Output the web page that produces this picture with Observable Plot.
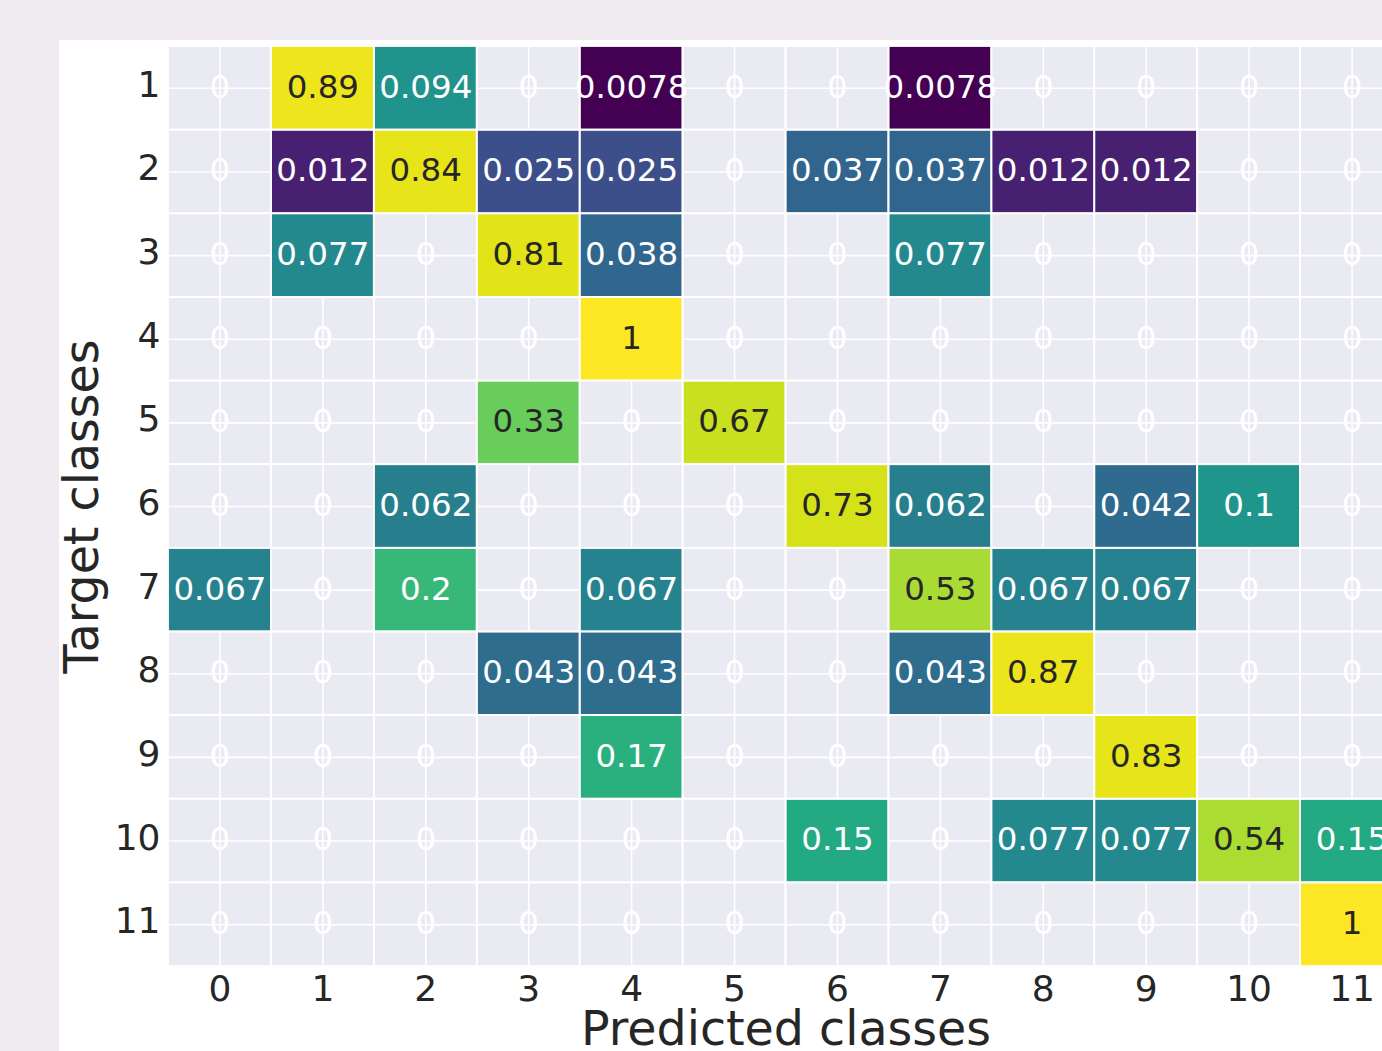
<!DOCTYPE html>
<html><head><meta charset="utf-8">
<script src="https://cdn.jsdelivr.net/npm/d3@7"></script>
<script src="https://cdn.jsdelivr.net/npm/@observablehq/plot@0.6"></script>
<style>
html,body{margin:0;padding:0;background:#f0eaf1;overflow:hidden;width:1382px;height:1051px}
#panel{position:absolute;left:59px;top:40px;background:#fff;width:1420px;height:1100px}
#panel svg{display:block}
</style></head><body><div id="panel"></div>
<script>
const predicted = [0,1,2,3,4,5,6,7,8,9,10,11];
const target = [1,2,3,4,5,6,7,8,9,10,11];
// rows = target classes 1..11, columns = predicted classes 0..11
const values = [
  [0,     0.89,  0.094, 0,     0.0078, 0,    0,     0.0078, 0,     0,     0,    0],
  [0,     0.012, 0.84,  0.025, 0.025,  0,    0.037, 0.037,  0.012, 0.012, 0,    0],
  [0,     0.077, 0,     0.81,  0.038,  0,    0,     0.077,  0,     0,     0,    0],
  [0,     0,     0,     0,     1,      0,    0,     0,      0,     0,     0,    0],
  [0,     0,     0,     0.33,  0,      0.67, 0,     0,      0,     0,     0,    0],
  [0,     0,     0.062, 0,     0,      0,    0.73,  0.062,  0,     0.042, 0.1,  0],
  [0.067, 0,     0.2,   0,     0.067,  0,    0,     0.53,   0.067, 0.067, 0,    0],
  [0,     0,     0,     0.043, 0.043,  0,    0,     0.043,  0.87,  0,     0,    0],
  [0,     0,     0,     0,     0.17,   0,    0,     0,      0,     0.83,  0,    0],
  [0,     0,     0,     0,     0,      0,    0.15,  0,      0.077, 0.077, 0.54, 0.15],
  [0,     0,     0,     0,     0,      0,    0,     0,      0,     0,     0,    1]
];
const colorDomain = [0.0078, 1];
const xLabel = "Predicted classes";
const yLabel = "Target classes";

const fmt = d3.format(".2~g");
const sc = d3.scaleSequentialLog(d3.interpolateViridis).domain(colorDomain);
function lum(c){
  const rgb = d3.rgb(c);
  const f = x => { x /= 255; return x <= 0.03928 ? x/12.92 : Math.pow((x+0.055)/1.055, 2.4); };
  return 0.2126*f(rgb.r) + 0.7152*f(rgb.g) + 0.0722*f(rgb.b);
}
const cells = [];
target.forEach((t, i) => predicted.forEach((p, j) => {
  const v = values[i][j];
  cells.push({target: t, predicted: p, v, label: fmt(v), dark: v > 0 && lum(sc(v)) > 0.408});
}));
const nonzero = cells.filter(d => d.v > 0);

const plot = Plot.plot({
  width: 1344, height: 1011,
  marginLeft: 109, marginTop: 6, marginRight: 0, marginBottom: 85,
  style: {fontFamily: "DejaVu Sans", background: "transparent", color: "#262626", maxWidth: "none"},
  x: {type: "band", domain: predicted, padding: 0, round: false, label: null},
  y: {type: "band", domain: target, padding: 0, round: false, label: null},
  color: {type: "log", scheme: "viridis", domain: colorDomain},
  marks: [
    Plot.frame({fill: "#eaeaf2", stroke: null}),
    Plot.gridX({stroke: "white", strokeOpacity: 1, strokeWidth: 1.6}),
    Plot.gridY({stroke: "white", strokeOpacity: 1, strokeWidth: 1.6}),
    Plot.cell(nonzero, {x: "predicted", y: "target", fill: "v"}),
    Plot.cell(cells, {x: "predicted", y: "target", fill: "none", stroke: "white", strokeWidth: 1.8}),
    Plot.text(cells.filter(d => !d.dark), {x: "predicted", y: "target", text: "label", fill: "white", fontSize: 32.5, dy: -1}),
    Plot.text(cells.filter(d => d.dark), {x: "predicted", y: "target", text: "label", fill: "#262626", fontSize: 32.5, dy: -1}),
    Plot.axisX({tickSize: 0, tickPadding: 9, fontSize: 36, label: null}),
    Plot.axisY({tickSize: 0, tickPadding: 8, fontSize: 36, label: null, dy: -3}),
    Plot.text([xLabel], {frameAnchor: "bottom", textAnchor: "middle", lineAnchor: "middle", dy: 63, fontSize: 47.5, fill: "#262626"}),
    Plot.text([yLabel], {frameAnchor: "left", textAnchor: "middle", lineAnchor: "middle", dx: -86, rotate: -90, fontSize: 47.5, fill: "#262626"})
  ]
});
document.getElementById("panel").appendChild(plot);
</script>
</body></html>
